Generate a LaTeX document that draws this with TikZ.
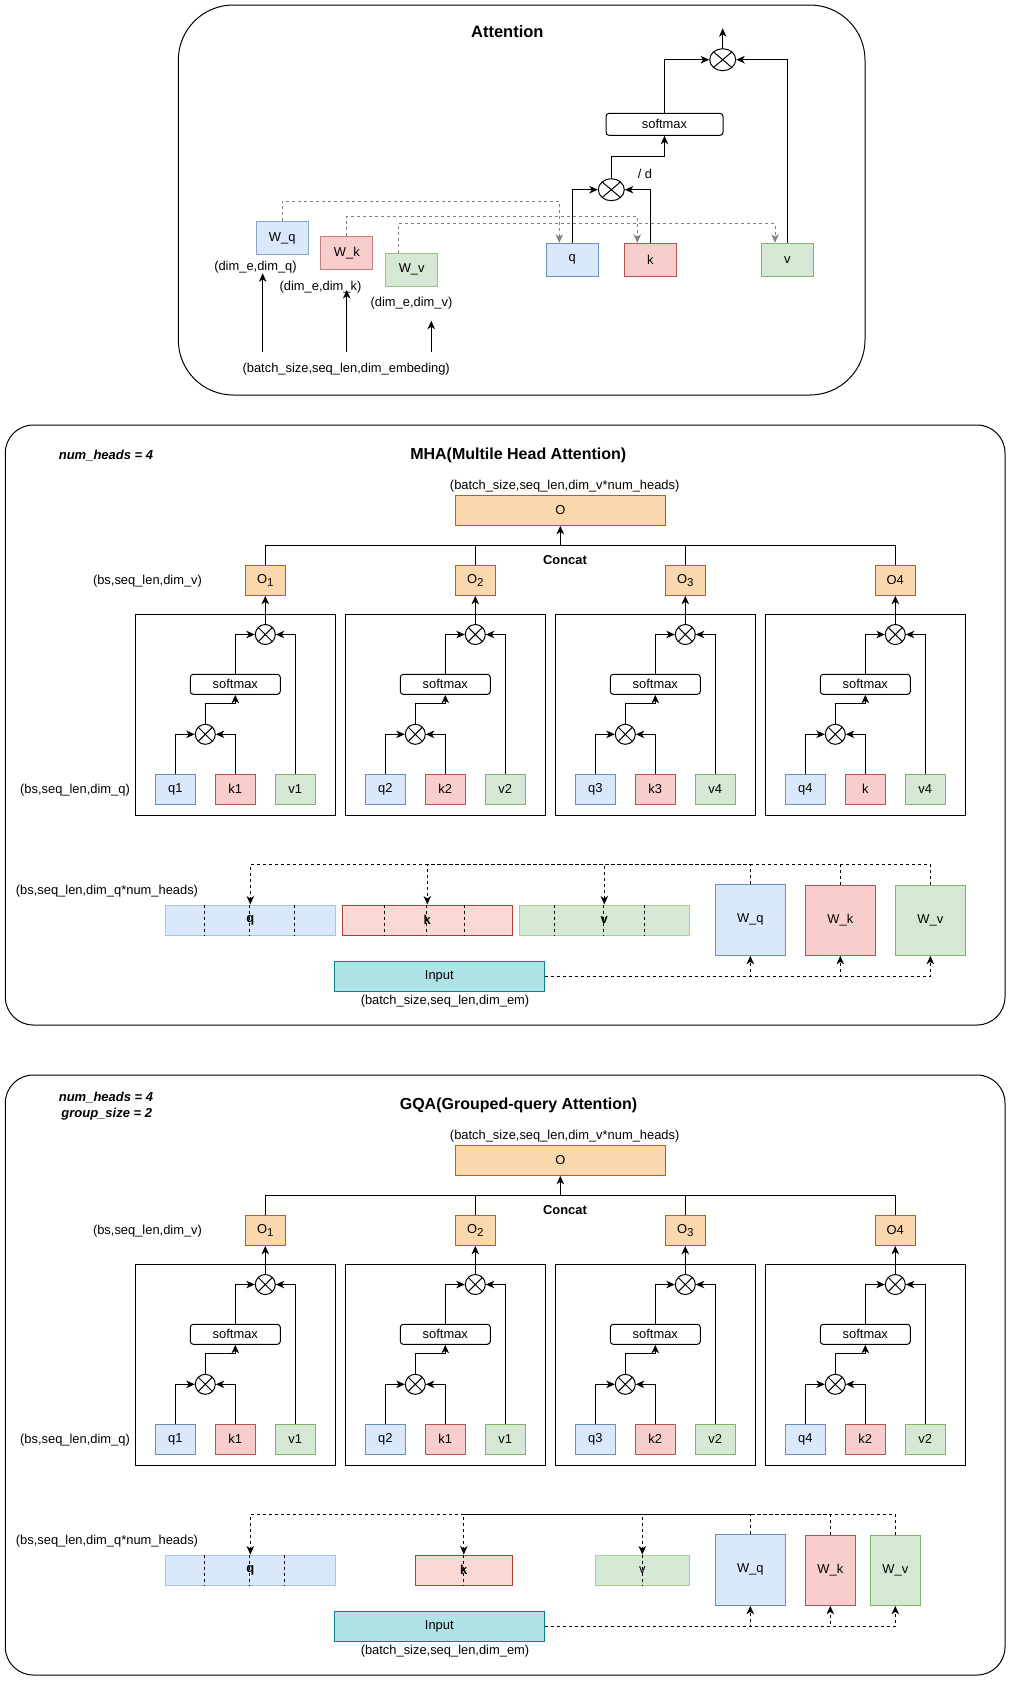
\documentclass[tikz,border=0pt]{standalone}
\usepackage{fontspec}
\setmainfont{Liberation Sans}
\usetikzlibrary{arrows.meta,calc,shapes.geometric}

% palette
\definecolor{qfill}{HTML}{DAE8FC}
\definecolor{qline}{HTML}{6C8EBF}
\definecolor{kfill}{HTML}{F8CECC}
\definecolor{kline}{HTML}{B85450}
\definecolor{vfill}{HTML}{D5E8D4}
\definecolor{vline}{HTML}{82B366}
\definecolor{ofill}{HTML}{FAD7AC}
\definecolor{oline}{HTML}{B46504}
\definecolor{infill}{HTML}{B0E3E6}
\definecolor{inputline}{HTML}{0E8088}
\definecolor{qbarline}{HTML}{A9C4EB}
\definecolor{kbarfill}{HTML}{FAD9D5}
\definecolor{kbarline}{HTML}{AE4132}
\definecolor{vbarline}{HTML}{A9D18E}
\definecolor{dashgray}{HTML}{808080}

\tikzset{
  base/.style={inner sep=0pt, font=\fontsize{12.9}{15}\selectfont},
  lbl/.style={base},
  box/.style={base, rectangle, draw, line width=1pt},
  qbox/.style={box, fill=qfill, draw=qline},
  kbox/.style={box, fill=kfill, draw=kline},
  vbox/.style={box, fill=vfill, draw=vline},
  obox/.style={box, fill=ofill, draw=oline},
  cell/.style={minimum width=40pt, minimum height=30pt},
  wsmall/.style={minimum width=52pt, minimum height=33pt},
  barbox/.style={minimum width=170pt, minimum height=30pt, font=\fontsize{12.9}{15}\selectfont\bfseries},
  headframe/.style={draw, line width=1pt, minimum width=200pt, minimum height=201pt, inner sep=0pt},
  smbox/.style={box, rounded corners=3pt, minimum width=90pt, minimum height=20pt},
  crossmark/.style={path picture={\draw[line width=1pt]
      (path picture bounding box.north west) -- (path picture bounding box.south east)
      (path picture bounding box.north east) -- (path picture bounding box.south west);}},
  sumc/.style={circle, draw, line width=1pt, minimum size=20pt, inner sep=0pt, fill=white, crossmark},
  sume/.style={ellipse, draw, line width=1pt, minimum width=26pt, minimum height=22pt, inner sep=0pt, fill=white, crossmark},
  panel/.style={draw, line width=1pt, inner sep=0pt},
  ln/.style={line width=1pt},
  arr/.style={line width=1pt, -{Stealth[length=8.5pt,width=7.5pt,inset=2.5pt]}},
  dsh/.style={arr, dash pattern=on 3pt off 3pt},
  gdsh/.style={dsh, draw=dashgray, -{Stealth[length=8.5pt,width=7.5pt,inset=2.5pt,fill=dashgray]}},
  divider/.style={line width=1pt, dash pattern=on 3pt off 3pt},
  ttl/.style={inner sep=0pt, font=\fontsize{16}{18}\selectfont\bfseries},
  note/.style={inner sep=0pt, font=\fontsize{13}{15}\selectfont\bfseries\itshape},
}

\newcommand{\osub}[1]{O\raisebox{-3.5pt}{\fontsize{11.5}{11.5}\selectfont #1}}

% one attention head: prefix, centre x, vertical offset, q, k, v, output label
\newcommand{\attnhead}[7]{%
  \begin{scope}[shift={(#2,#3)}]
    \node[headframe] (#1f) at (0,714.8) {};
    \node[obox, cell] (#1o) at (30,580.3) {#7};
    \node[sumc] (#1u) at (30,634.5) {};
    \node[smbox] (#1s) at (0,684.3) {softmax};
    \node[sumc] (#1l) at (-30,734.3) {};
    \node[qbox, cell] (#1q) at (-60,789.3) {#4};
    \node[kbox, cell] (#1k) at (0,789.3) {#5};
    \node[vbox, cell] (#1v) at (60,789.3) {#6};
    \draw[arr] (#1q.north) |- (#1l.west);
    \draw[arr] (#1k.north) |- (#1l.east);
    \draw[arr] (#1l.north) -- ++(0,-20) -| (#1s.south);
    \draw[arr] (#1s.north) |- (#1u.west);
    \draw[arr] (#1v.north) |- (#1u.east);
    \draw[arr] (#1u.north) -- (#1o.south);
  \end{scope}}

\begin{document}
\begin{tikzpicture}[x=1pt,y=-1pt]
\useasboundingbox (0,0) rectangle (1012,1682);

% ---------------- single attention ----------------
\node[panel, rounded corners=55pt, minimum width=686.7pt, minimum height=390pt] (attbox) at (521.65,200) {};
\node[ttl, font=\fontsize{16.5}{18}\selectfont\bfseries] (atttitle) at (507.3,31.7) {Attention};

\node[qbox, wsmall, draw=qline!80] (wq) at (282.2,238) {W\_q};
\node[kbox, wsmall, draw=kline!75] (wk) at (346.8,253.3) {W\_k};
\node[vbox, wsmall, draw=vline!80] (wv) at (411.7,269.7) {W\_v};
\node[lbl] (dq) at (255.5,266.7) {(dim\_e,dim\_q)};
\node[lbl] (dk) at (320.5,286.7) {(dim\_e,dim\_k)};
\node[lbl] (dv) at (411.5,302.7) {(dim\_e,dim\_v)};
\node[lbl] (bse) at (346.2,368.7) {(batch\_size,seq\_len,dim\_embeding)};

\node[qbox, wsmall] (aq) at (572.3,259.8) {q};
\node[kbox, wsmall] (ak) at (650.3,259.8) {k};
\node[vbox, wsmall] (av) at (787.3,259.8) {v};
\node[sume] (alc) at (611.3,189.7) {};
\node[sume] (auc) at (722.7,59.7) {};
\node[smbox, minimum width=117pt, minimum height=22pt] (asm) at (664.5,124.3) {softmax};
\node[lbl] (divd) at (645,173.7) {/ d};
\coordinate (aout) at (722.7,28.3);

\coordinate (in1) at (262.7,351.7);
\coordinate (in1t) at (262.7,273.3);
\coordinate (in2) at (346.7,351.7);
\coordinate (in2t) at (346.7,290);
\coordinate (in3) at (431.3,351.7);
\coordinate (in3t) at (431.3,320.7);
\draw[arr] (in1) -- (in1t);
\draw[arr] (in2) -- (in2t);
\draw[arr] (in3) -- (in3t);

\draw[gdsh] (wq.north) -- ++(0,-20) -| ($(aq.north)+(-13,0)$);
\draw[gdsh] (wk.north) -- ++(0,-19.7) -| ($(ak.north)+(-13,0)$);
\draw[gdsh] ($(wv.north)+(-13,0)$) -- ++(0,-29.4) -| ($(av.north)+(-12.3,0)$);

\draw[arr] (aq.north) |- (alc.west);
\draw[arr] (ak.north) |- (alc.east);
\draw[arr] (alc.north) -- ++(0,-22) -| (asm.south);
\draw[arr] (asm.north) |- (auc.west);
\draw[arr] (av.north) |- (auc.east);
\draw[arr] (auc.north) -- (aout);

% ---------------- multi-head attention ----------------
\node[panel, rounded corners=28pt, minimum width=999.7pt, minimum height=600pt] (mha) at (505.15,725) {};
\node[note] (mnh) at (106,455.7) {num\_heads = 4};
\node[ttl] (mtitle) at (518.3,455) {MHA(Multile Head Attention)};
\node[lbl] (moshape) at (564.7,485.7) {(batch\_size,seq\_len,dim\_v*num\_heads)};
\node[obox, minimum width=210pt, minimum height=30pt] (mO) at (560.3,510.3) {O};
\node[lbl] (mvshape) at (147.5,580.7) {(bs,seq\_len,dim\_v)};
\node[lbl] (mqshape) at (75,789.7) {(bs,seq\_len,dim\_q)};
\node[lbl, font=\fontsize{12.9}{15}\selectfont\bfseries] (mconcat) at (565,560.3) {Concat};

\attnhead{m1}{235.3}{0}{q1}{k1}{v1}{\osub{1}}
\attnhead{m2}{445.3}{0}{q2}{k2}{v2}{\osub{2}}
\attnhead{m3}{655.3}{0}{q3}{k3}{v4}{\osub{3}}
\attnhead{m4}{865.3}{0}{q4}{k}{v4}{O4}

\coordinate (mcat) at (560.3,545.3);
\draw[ln] (m1o.north) |- (m4o.north |- mcat) -- (m4o.north);
\draw[ln] (m2o.north) -- (m2o.north |- mcat);
\draw[ln] (m3o.north) -- (m3o.north |- mcat);
\draw[arr] (mcat) -- (mO.south);

\node[lbl] (mqhshape) at (107,891) {(bs,seq\_len,dim\_q*num\_heads)};
\node[qbox, barbox, draw=qbarline] (mqb) at (250.3,920) {q};
\node[kbox, barbox, fill=kbarfill, draw=kbarline] (mkb) at (427.3,920) {k};
\node[vbox, barbox, draw=vbarline] (mvb) at (604.3,920) {v};
\foreach \d in {40,85,130} \draw[divider] ($(mqb.north west)+(\d,0)$) -- ($(mqb.south west)+(\d,0)$);
\foreach \d in {43,85,123} \draw[divider] ($(mkb.north west)+(\d,0)$) -- ($(mkb.south west)+(\d,0)$);
\foreach \d in {36,85,126} \draw[divider] ($(mvb.north west)+(\d,0)$) -- ($(mvb.south west)+(\d,0)$);

\node[qbox, minimum width=70pt, minimum height=71pt] (mwq) at (750.3,919.8) {W\_q};
\node[kbox, minimum width=70pt, minimum height=70pt] (mwk) at (840.3,920.3) {W\_k};
\node[vbox, minimum width=70pt, minimum height=70pt] (mwv) at (930.3,920.3) {W\_v};
\node[box, fill=infill, draw=inputline, minimum width=210pt, minimum height=30pt] (minp) at (439.3,976.3) {Input};
\node[lbl] (minshape) at (445,1000.7) {(batch\_size,seq\_len,dim\_em)};

\coordinate (mtop) at (500,864.3);
\draw[dsh] (mwq.north) -- (mwq.north |- mtop) -| (mqb.north);
\draw[dsh] (mwk.north) -- (mwk.north |- mtop) -| (mkb.north);
\draw[dsh] (mwv.north) -- (mwv.north |- mtop) -| (mvb.north);
\draw[dsh] (minp.east) -| (mwq.south);
\draw[dsh] (minp.east) -| (mwk.south);
\draw[dsh] (minp.east) -| (mwv.south);

% ---------------- grouped-query attention ----------------
\node[panel, rounded corners=28pt, minimum width=999.7pt, minimum height=600pt] (gqa) at (505.15,1375) {};
\node[note] (gnh) at (106,1097.7) {num\_heads = 4};
\node[note] (ggs) at (106.7,1113.7) {group\_size = 2};
\node[ttl] (gtitle) at (518.5,1105) {GQA(Grouped-query Attention)};
\node[lbl] (goshape) at (564.7,1135.7) {(batch\_size,seq\_len,dim\_v*num\_heads)};
\node[obox, minimum width=210pt, minimum height=30pt] (gO) at (560.3,1160.3) {O};
\node[lbl] (gvshape) at (147.5,1230.7) {(bs,seq\_len,dim\_v)};
\node[lbl] (gqshape) at (75,1439.7) {(bs,seq\_len,dim\_q)};
\node[lbl, font=\fontsize{12.9}{15}\selectfont\bfseries] (gconcat) at (565,1210.3) {Concat};

\attnhead{g1}{235.3}{650}{q1}{k1}{v1}{\osub{1}}
\attnhead{g2}{445.3}{650}{q2}{k1}{v1}{\osub{2}}
\attnhead{g3}{655.3}{650}{q3}{k2}{v2}{\osub{3}}
\attnhead{g4}{865.3}{650}{q4}{k2}{v2}{O4}

\coordinate (gcat) at (560.3,1195.3);
\draw[ln] (g1o.north) |- (g4o.north |- gcat) -- (g4o.north);
\draw[ln] (g2o.north) -- (g2o.north |- gcat);
\draw[ln] (g3o.north) -- (g3o.north |- gcat);
\draw[arr] (gcat) -- (gO.south);

\node[lbl] (gqhshape) at (107,1541) {(bs,seq\_len,dim\_q*num\_heads)};
\node[qbox, barbox, draw=qbarline] (gqb) at (250.3,1570) {q};
\node[kbox, barbox, fill=kbarfill, draw=kbarline, minimum width=97pt] (gkb) at (463.8,1570) {k};
\node[vbox, barbox, draw=vbarline, minimum width=94pt, font=\fontsize{12.9}{15}\selectfont] (gvb) at (642.3,1570) {v};
\foreach \d in {40,85,120} \draw[divider] ($(gqb.north west)+(\d,0)$) -- ($(gqb.south west)+(\d,0)$);
\draw[divider] (gkb.north) -- (gkb.south);
\draw[divider] (gvb.north) -- (gvb.south);

\node[qbox, minimum width=70pt, minimum height=71pt] (gwq) at (750.3,1569.8) {W\_q};
\node[kbox, minimum width=50pt, minimum height=70pt] (gwk) at (830.3,1570.3) {W\_k};
\node[vbox, minimum width=50pt, minimum height=70pt] (gwv) at (895.3,1570.3) {W\_v};
\node[box, fill=infill, draw=inputline, minimum width=210pt, minimum height=30pt] (ginp) at (439.3,1626.3) {Input};
\node[lbl] (ginshape) at (445,1650.7) {(batch\_size,seq\_len,dim\_em)};

\coordinate (gtop) at (500,1514.3);
\draw[dsh] (gwq.north) -- (gwq.north |- gtop) -| (gqb.north);
\draw[dsh] (gwk.north) -- (gwk.north |- gtop) -| (gkb.north);
\draw[dsh] (gwv.north) -- (gwv.north |- gtop) -| (gvb.north);
\draw[dsh] (ginp.east) -| (gwq.south);
\draw[dsh] (ginp.east) -| (gwk.south);
\draw[dsh] (ginp.east) -| (gwv.south);

\end{tikzpicture}
\end{document}
